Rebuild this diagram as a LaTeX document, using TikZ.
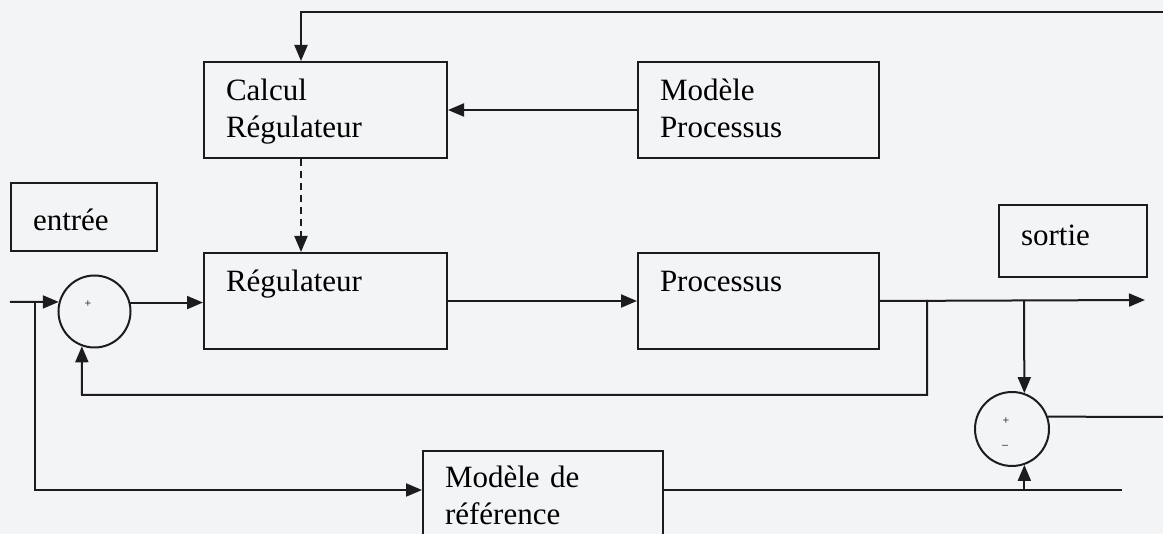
\documentclass[tikz,border=0pt]{standalone}
\usepackage{fontspec}
\setmainfont{Liberation Serif}
\usetikzlibrary{arrows.meta}
\definecolor{fond}{RGB}{243,244,246}
\definecolor{trait}{RGB}{28,28,30}

\begin{document}
\begin{tikzpicture}[x=1pt,y=-1pt,line width=2pt,draw=trait,
  >={Triangle[length=16pt,width=13pt]},
  bloc/.style={draw,anchor=north west,align=left,inner xsep=22pt,inner ysep=17pt,
    text height=22pt,text depth=40pt,text width=#1,font=\fontsize{31}{37}\selectfont},
  somme/.style={circle,draw,inner sep=0pt,minimum size=#1},
  signe/.style={inner sep=0pt,font=\fontsize{12}{12}\selectfont}]

\fill[fond] (0,0) rectangle (1163,534);
\useasboundingbox (0,0) rectangle (1163,534);

% blocs
\node[bloc=199pt](calc) at (203,61){Calcul\\Régulateur};
\node[bloc=197pt](modp) at (637,61){Modèle\\Processus};
\node[bloc=199pt](regl) at (203,252){Régulateur};
\node[bloc=197pt](proc) at (637,252){Processus};
\node[bloc=102pt,text height=31pt,text depth=3pt](entree) at (10,182){entrée};
\node[bloc=104pt,text height=24pt,text depth=14pt](sortie) at (998,204){sortie};
\node[bloc=196pt,text height=20pt,text depth=80pt](mref) at (422,450){Modèle de\\référence};

% comparateurs
\node[somme=72pt](s1) at (94.5,311.5){};
\node[somme=74pt](s2) at (1012,429){};
\node[signe](p1) at (88,304){+};
\node[signe](p2) at (1006,421){+};
\node[signe](m2) at (1005,447){--};

% points de passage
\coordinate (e0) at (10,302);
\coordinate (b1) at (35,302);
\coordinate (bas) at (35,490);
\coordinate (b2) at (927,300);
\coordinate (b3) at (1024,300);
\coordinate (fin) at (1145,300);
\coordinate (retour) at (82,395);
\coordinate (mfin) at (1122,490);
\coordinate (haut) at (301,12);
\coordinate (droite) at (1163,12);
\coordinate (bord) at (1163,417);

\draw[->] (e0) -- (s1.165.5);
\draw[->] (b1) -- (bas) -- (bas -| mref.west);
\draw[->] (s1.14.5) -- (s1.14.5 -| regl.west);
\draw[->] (droite) -- (haut) -- (haut |- calc.north);
\draw[->,dash pattern=on 7pt off 5pt] (haut |- calc.south) -- (haut |- regl.north);
\draw[->] (modp.west) -- (modp.west -| calc.east);
\draw[->] (regl.east) -- (proc.west);
\draw[->] (proc.east) -- (fin);
\draw[->] (b2) |- (retour) -- (s1.-110);
\draw[->] (b3) -- (s2.71);
\draw (mref.east |- bas) -- (mfin);
\draw[->] (s2.-71 |- bas) -- (s2.-71);
\draw (s2.19) -- (bord);

\end{tikzpicture}
\end{document}
